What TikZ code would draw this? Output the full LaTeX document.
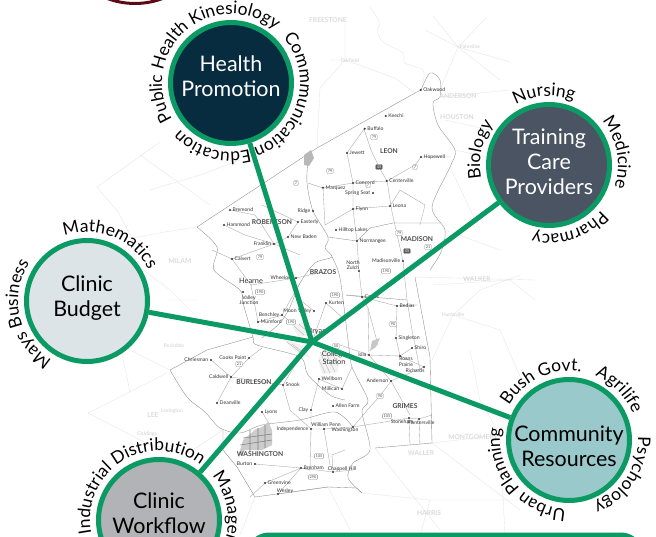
\documentclass[tikz,border=0pt]{standalone}
\usepackage{fontspec}
\setmainfont{Lato}
\usepackage{xcolor}
\usetikzlibrary{calc}
\usetikzlibrary{positioning}
\usetikzlibrary{decorations.text}

\definecolor{ringGreen}{HTML}{0B9A63}
\definecolor{healthBlue}{HTML}{072C3F}
\definecolor{trainingGray}{HTML}{4A5463}
\definecolor{budgetGray}{HTML}{DCE4E7}
\definecolor{workflowGray}{HTML}{B1B3B6}
\definecolor{communityTeal}{HTML}{99C9CB}
\definecolor{topMaroon}{HTML}{5C0A14}

\tikzset{
	ringnode/.style={circle, draw=ringGreen, line width=0.1cm, minimum size=2.42cm, inner sep=0pt},
	ringlabel/.style={align=center, font=\fontsize{12.2}{14.2}\selectfont},
	spoke/.style={draw=ringGreen, line width=0.1cm},
	countyline/.style={draw=black!45, line width=0.2pt},
	roadline/.style={draw=black!35, line width=0.2pt},
	fadedline/.style={draw=black!10, line width=0.2pt},
	towndot/.style={circle, fill=black!80, inner sep=0pt, minimum size=1.3pt},
	townname/.style={inner sep=0.5pt, text=black!80, font=\fontsize{2.9}{3.2}\selectfont},
	fadedtown/.style={inner sep=0.5pt, text=black!18, font=\fontsize{2.9}{3.2}\selectfont},
	countyname/.style={text=black!70, font=\bfseries\fontsize{3.8}{4}\selectfont},
	fadedname/.style={text=black!14, font=\bfseries\fontsize{3.8}{4}\selectfont},
	shield/.style={draw=black!45, fill=white, rounded corners=0.5pt, line width=0.2pt, inner sep=0.6pt, text=black!70, font=\fontsize{2.2}{2.4}\selectfont},
}

\begin{document}
\begin{tikzpicture}[x=0.02cm,y=-0.02cm] % one unit is one pixel of the reference, y runs down
		\newcommand{\ringRadius}{69}
		\newcommand{\ringFont}{\fontsize{9.9}{12}\selectfont}
		\newcommand{\ringText}[3]{\path[decorate, decoration={text along path, text align=center, text={|\ringFont|#3}}] (#1) ++(#2-110:\ringRadius) arc[start angle=#2-110, end angle=#2+110, radius=\ringRadius];}
		\newcommand{\townR}[3]{\node[towndot] (#3) at (#1,#2) {}; \node[townname, right=0pt of #3] (#3 name) {#3};}
		\newcommand{\townL}[3]{\node[towndot] (#3) at (#1,#2) {}; \node[townname, left=0pt of #3] (#3 name) {#3};}
		\newcommand{\townAt}[6]{\node[towndot] (#3) at (#1,#2) {}; \node[townname, align=center] (#3 name) at (#4,#5) {#6};}
		\newcommand{\roadShield}[3]{\node[shield] at (#1,#2) {#3};}
		
		\useasboundingbox (0,0) rectangle (656,537);
		\clip (0,0) rectangle (656,537);
		\fill[white] (0,0) rectangle (656,537);		% background
		
		% faded counties around the middle
		\draw[fadedline] (97,187) -- (160,142) (97,187) -- (118,212) -- (132,238) -- (165,232) -- (197,227);
		\draw[fadedline] (88,413) -- (167,373) (88,413) -- (150,445) -- (190,452) -- (223,430);
		\draw[fadedline] (132,238) -- (140,290) -- (120,345) -- (130,392) (170,370) -- (120,345);
		\draw[fadedline] plot[smooth] coordinates {(370,7) (380,23) (377,30) (383,42) (403,53) (405,63) (423,70) (423,83)};
		\draw[fadedline] (458,47) -- (433,16) (458,47) -- (487,17) (458,47) -- (510,62) (458,47) -- (500,80) (458,47) -- (440,90) (458,47) -- (425,30);
		\draw[fadedline] (330,60) -- (345,60) -- (320,88) (345,20) -- (345,60) -- (395,78) (320,88) -- (317,148) (345,60) -- (395,78) -- (415,93);
		\draw[fadedline] (440,97) -- (510,90) (445,120) -- (490,130) (455,150) -- (500,160) (450,167) -- (480,230) (445,230) -- (500,250);
		\draw[fadedline] (433,285) -- (510,280) -- (535,300) (453,315) -- (480,290) -- (520,275) (453,315) -- (432,360) (453,315) -- (500,330) -- (530,400);
		\draw[fadedline] (415,277) -- (535,280) (432,443) -- (500,435) (470,350) -- (480,400) -- (500,435) (432,443) -- (520,510) (375,448) -- (440,530);
		\draw[fadedline] (255,497) -- (240,535) (328,487) -- (350,530) (362,493) -- (430,500) -- (530,500) (430,500) -- (420,535) (500,440) -- (505,535);
		\draw[fadedline] (167,300) -- (197,300) (130,260) -- (170,290) -- (210,330) (140,155) -- (210,205) (150,190) -- (200,175) -- (240,160);
		
		% county lines
		\draw[countyline] (197,227) -- (317,148) -- (415,93) -- (421,90);
		\draw[countyline] plot[smooth] coordinates {(421,90) (430,73) (440,80) (440,97) (433,103) (438,125) (455,150) (450,167) (432,207) (445,230) (441,252) (430,270)};
		\draw[countyline] plot[smooth] coordinates {(308,160) (307,183) (313,211) (328,237) (325,248) (332,257) (315,263) (300,283) (290,307) (280,323) (262,338)};
		\draw[countyline] plot[smooth] coordinates {(197,227) (217,247) (214,270) (240,290) (243,303) (253,337) (257,345) (300,357) (308,375) (330,395) (345,400)};
		\draw[countyline] plot[smooth] coordinates {(332,257) (340,278) (348,340) (352,367) (368,400) (362,412) (370,450) (353,463) (348,478) (362,493)};
		\draw[countyline] (346,295) -- (407,300) (328,237) -- (357,241) -- (370,228) -- (393,223) -- (440,223);
		\draw[countyline] (415,277) -- (430,357) -- (432,443) -- (375,448);
		\draw[countyline] (170,370) -- (207,350) -- (253,337);
		\draw[countyline] plot[smooth] coordinates {(170,370) (187,397) (205,412) (220,428) (240,433) (262,425) (300,420) (335,412) (353,427)};
		\draw[countyline] (223,430) -- (223,450) -- (237,467) -- (255,497) -- (328,487) -- (357,488) -- (362,493);
		
		% roads
		\draw[roadline] (364,129) -- (371,150) -- (379,167) -- (387,181) -- (392,212) -- (403,261) -- (407,300) -- (412,330) -- (420,370);
		\draw[roadline] (364,129) -- (347,153) -- (353,183) -- (353,209) -- (357,241) -- (359,271) -- (362,297) -- (368,308) -- (378,345);
		\draw[roadline] (308,183) -- (323,188) -- (353,183) -- (387,181) -- (415,165) -- (421,157) -- (450,157);
		\draw[roadline] (323,188) -- (325,225) -- (353,209) -- (390,206) -- (400,190) -- (425,205) -- (420,225);
		\draw[roadline] (230,210) -- (255,215) -- (262,225) -- (274,244) -- (232,259) -- (212,250) (224,225) -- (245,235) -- (274,244) -- (300,255);
		\draw[roadline] (288,237) -- (298,222) -- (262,205) (288,237) -- (274,244) (232,259) -- (251,285) -- (296,278) -- (323,272) (251,285) -- (258,322);
		\draw[roadline] (258,322) -- (282,315) -- (300,283) (282,315) -- (300,330) (326,303) -- (312,342) (326,303) -- (345,320) -- (312,342) (314,311) -- (300,300);
		\draw[roadline] (346,295) -- (362,297) -- (397,306) -- (418,305) (368,308) -- (369,355) -- (340,345) (397,306) -- (396,338) -- (400,356) -- (412,348) (400,356) -- (424,367) -- (391,381) -- (410,415);
		\draw[roadline] (369,355) -- (400,356) (369,355) -- (391,381) -- (380,396) -- (369,408) -- (353,427);
		\draw[roadline] (211,360) -- (231,377) -- (249,358) -- (262,348) (231,377) -- (217,403) (231,377) -- (283,385) -- (300,357) (283,385) -- (290,410) -- (311,429);
		\draw[roadline] (319,379) -- (342,389) -- (352,367) (319,379) -- (311,410) -- (311,429) -- (324,429) -- (353,427) -- (409,418) -- (419,419) -- (432,415);
		\draw[roadline] (262,412) -- (270,425) (311,429) -- (310,470) -- (301,468) -- (255,464) (301,468) -- (265,483) -- (250,497) (301,468) -- (333,472) -- (353,470);
		\draw[roadline] (278,494) -- (301,468) (278,494) -- (328,487) (324,429) -- (330,465) (333,472) -- (332,455) -- (345,450) (409,418) -- (410,445) (419,419) -- (420,445);
		
		% lakes and towns drawn as patches
		\fill[black!28] (304,155) -- (311,150) -- (314,158) -- (309,166) -- (304,165) -- cycle;
		\fill[black!22] (372,341) -- (380,338) -- (376,347) -- (370,351) -- cycle;
		\fill[black!20] (256,429) -- (262,427) -- (268,422) -- (272,430) -- (272,445) -- (262,450) -- (245,450) -- (238,458) -- (243,440) -- cycle;
		\draw[black!50, line width=0.3pt] (240,445) -- (272,440) (243,438) -- (272,434) (250,430) -- (250,452) (258,428) -- (258,450) (265,425) -- (265,448);
		\fill[black!5] (323,350) -- (338,350) -- (338,372) -- (322,374) -- (318,360) -- cycle;
		\fill[black!5] (292,325) -- (305,322) -- (312,335) -- (298,337) -- cycle;
		\fill[black!5] (284,340) -- (302,345) -- (310,358) -- (296,352) -- cycle;
		\draw[black!30, line width=0.2pt] (294,326) -- (304,335) (299,324) -- (309,333) (287,342) -- (300,352) (292,344) -- (305,354);
		\draw[black!30, line width=0.2pt] (320,352) -- (330,373) (325,351) -- (335,372) (331,350) -- (338,366) (319,360) -- (325,373);
		
		% towns
		\townR{420.7}{90}{Oakwood}
		\townR{385.7}{116}{Keechi}
		\townR{364.7}{128.7}{Buffalo}
		\townR{347}{153}{Jewett}
		\townR{421}{157}{Hopewell}
		\townR{353}{183}{Concord}
		\townR{386.7}{181}{Centerville}
		\townR{323}{187.7}{Marquez}
		\townL{373}{193}{Spring Seat}
		\townR{353}{209}{Flynn}
		\townR{390}{206}{Leona}
		\townL{313}{211}{Ridge}
		\townR{298}{222}{Easterly}
		\townR{336}{230}{Hilltop Lakes}
		\townR{357}{241}{Normangee}
		\townR{288}{237}{New Baden}
		\townL{274}{244}{Franklin}
		\townR{230}{210}{Bremond}
		\townR{224}{225}{Hammond}
		\townR{232}{259}{Calvert}
		\townL{296}{278}{Wheelock}
		\townL{403}{261}{Madisonville}
		\townAt{359}{271}{North Zulch}{353}{265}{North\\Zulch}
		\townAt{243}{292}{Valley Junction}{249}{300}{Valley\\Junction}
		\townL{282}{315}{Benchley}
		\townR{258}{322}{Mumford}
		\townR{326}{303}{Kurten}
		\townL{314}{311}{Moon Valley}
		\townR{362}{297}{Carlos}
		\townR{397}{306}{Bedias}
		\townR{396}{338}{Singleton}
		\townR{412}{348}{Shiro}
		\townAt{400}{356}{Roans Prairie}{406}{362}{Roans\\Prairie}
		\townAt{424}{367}{Richards}{415}{371}{Richards}
		\townL{391}{381}{Anderson}
		\townL{369}{355}{Iola}
		\townR{319}{379}{Wellborn}
		\townL{342}{389}{Millican}
		\townR{283}{385}{Snook}
		\townL{249}{358}{Cooks Point}
		\townL{211}{360}{Chriesman}
		\townL{231}{377}{Caldwell}
		\townR{217}{403}{Deanville}
		\townR{262}{412}{Lyons}
		\townL{311}{410}{Clay}
		\townR{333}{406}{Allen Farm}
		\townL{311}{429}{Independence}
		\townAt{324}{429}{William Penn}{326}{425}{William Penn}
		\townAt{353}{427}{Washington}{345}{430}{Washington}
		\townL{255}{464}{Burton}
		\townR{301}{468}{Brenham}
		\townAt{333}{472}{Chappell Hill}{342}{469}{Chappell Hill}
		\townR{265}{483}{Greenvine}
		\townAt{278}{494}{Wesley}{285}{491}{Wesley}
		\townAt{409}{418}{Stoneham}{402}{422}{Stoneham}
		\townAt{419}{419}{Plantersville}{421}{423}{Plantersville}
		
		% route shields
		\roadShield{330}{171}{79}
		\roadShield{374}{137}{79}
		\roadShield{296}{183}{7}
		\roadShield{368}{185}{7}
		\roadShield{415}{167}{7}
		\roadShield{399}{233}{79}
		\roadShield{428}{247}{21}
		\roadShield{260}{257}{79}
		\roadShield{260}{292}{190}
		\roadShield{291}{322}{190}
		\roadShield{335}{295}{190}
		\roadShield{386}{271}{190}
		\roadShield{393}{324}{90}
		\roadShield{336}{346}{50}
		\roadShield{239}{364}{21}
		\roadShield{380}{396}{90}
		\roadShield{387}{416}{105}
		\roadShield{313}{477}{290}
		\roadShield{319}{456}{105}
		\node[shield, fill=black!65, text=white] at (379,167) {45};
		\node[shield, fill=black!65, text=white] at (407,251) {45};
		
		% county and place names
		\node[countyname] at (389,151) {LEON};
		\node[countyname] at (417,239) {MADISON};
		\node[countyname] at (272,222) {ROBERTSON};
		\node[countyname] at (323,272) {BRAZOS};
		\node[countyname] at (254,382) {BURLESON};
		\node[countyname] at (260,454) {WASHINGTON};
		\node[countyname] at (405,406) {GRIMES};
		\node[townname, font=\fontsize{4.2}{4.6}\selectfont] at (251,281) {Hearne};
		\node[townname, font=\fontsize{4.2}{4.6}\selectfont] at (317,331) {Bryan};
		\node[townname, align=center, font=\fontsize{4.2}{4.6}\selectfont] at (334,358) {College\\Station};
		\node[fadedname] at (328,20) {FREESTONE};
		\node[fadedname] at (458,96) {ANDERSON};
		\node[fadedname] at (457,117) {HOUSTON};
		\node[fadedname] at (477,279) {WALKER};
		\node[fadedname] at (473,437) {MONTGOMERY};
		\node[fadedname] at (421,453) {WALLER};
		\node[fadedname] at (429,513) {HARRIS};
		\node[fadedname] at (153,415) {LEE};
		\node[fadedname] at (180,261) {MILAM};
		\node[fadedtown] at (470,47) {Palestine};
		\node[fadedtown] at (453,315) {Huntsville};
		\node[fadedtown] at (350,61) {Fairfield};
		\node[fadedtown] at (172,411) {Lexington};
		\node[fadedtown] at (147,434) {Giddings};
		\node[fadedtown] at (174,346) {Rockdale};
		
		% circles and spokes
		\coordinate (hub) at (312,342);
		\node[circle, draw=topMaroon, line width=0.06cm, minimum size=3.14cm, inner sep=0pt, fill=white] (topring) at (135,-75) {};
		\node[ringnode, fill=healthBlue] (health) at (231,83) {};
		\node[ringnode, fill=trainingGray] (training) at (549,165) {};
		\node[ringnode, fill=budgetGray] (budget) at (87,301) {};
		\node[ringnode, fill=workflowGray] (workflow) at (159,520) {};
		\node[ringnode, fill=communityTeal] (community) at (569,440) {};
		\draw[spoke] (hub) -- (health);
		\draw[spoke] (hub) -- (training);
		\draw[spoke] (hub) -- (budget);
		\draw[spoke] (hub) -- (workflow);
		\draw[spoke] (hub) -- (community);
		
		% circle texts
		\node[ringlabel, text=white] (healthtext) at (231,76.5) {Health\\Promotion};
		\node[ringlabel, text=white] (trainingtext) at (549,162) {Training\\Care\\Providers};
		\node[ringlabel] (budgettext) at (87,298) {Clinic\\Budget};
		\node[ringlabel] (workflowtext) at (159,513) {Clinic\\Workflow};
		\node[ringlabel] (communitytext) at (569,446) {Community\\Resources};
		
		% fields around the circles
		\ringText{health}{229}{Public Health Kinesiology}
		\ringText{health}{375}{Commmunication}
		\ringText{health}{106}{Education}
		\ringText{training}{266}{Nursing}
		\ringText{training}{349.5}{Medicine}
		\ringText{training}{72}{Pharmacy}
		\ringText{training}{192.5}{Biology}
		\ringText{budget}{292}{Mathematics}
		\ringText{budget}{167}{Mays Business}
		\ringText{workflow}{238}{Industrial Distribution}
		\ringText{workflow}{362}{Management}
		\ringText{community}{245}{Bush Govt.}
		\ringText{community}{315}{Agrilife}
		\ringText{community}{393}{Psychology}
		\ringText{community}{141}{Urban Planning}
		
		% box along the bottom edge
		\draw[draw=ringGreen, line width=0.1cm, fill=white, rounded corners=0.4cm] (249,535) rectangle (641,600);
\end{tikzpicture}
\end{document}
